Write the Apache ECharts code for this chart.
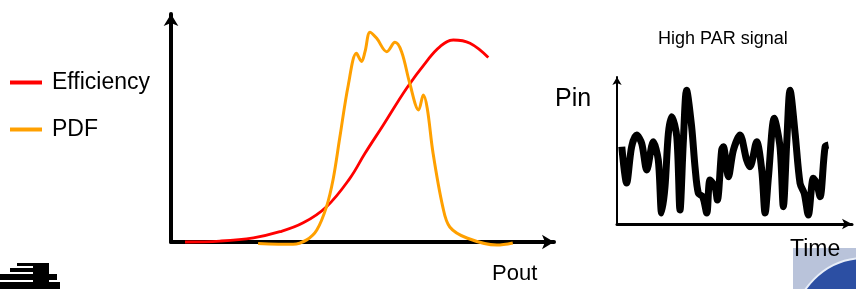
<!DOCTYPE html>
<html>
<head>
<meta charset="utf-8">
<script src="https://cdn.jsdelivr.net/npm/echarts@6/dist/echarts.min.js"></script>
<style>
html, body { margin: 0; padding: 0; background: #fff; }
#main { width: 856px; height: 289px; }
</style>
</head>
<body>
<div id="main"></div>
<script>
// left panel: efficiency and PDF against Pout (arbitrary units, 0-100)
const effPout = [3.6, 12.6, 21.2, 28, 34, 40, 46, 49.9, 54.6, 60.6, 65.7, 69.2, 72.6, 76.9, 81.6];
const effVal  = [0, 0.4, 1.8, 4.4, 8.2, 15.1, 27.2, 37.9, 50, 65.7, 77.1, 83.5, 86.3, 84.9, 78.8];

const pdfPout = [22.4, 31.4, 34.9, 37.5, 40, 41.7, 43.4, 45.6, 47.7, 49, 49.9, 51.2, 52.9, 55.5, 57.6, 59.3, 61.4, 63.7, 64.9, 65.9, 67.4, 69.9, 71.7, 76.1, 83.8, 87.9];
const pdfVal  = [-0.6, -1, 0.9, 5.1, 15.1, 26.8, 44.5, 67.1, 80.6, 77.1, 81.3, 89.6, 87, 81.3, 85.3, 81.3, 67.8, 56.4, 62.8, 57.1, 37.9, 15, 6.4, 1.7, -1.3, -0.4];

// right panel: high PAR input signal over time
const sigTime = [2, 4, 6.1, 8.2, 10.3, 12.4, 15.1, 17.2, 18.6, 20, 21.4, 22.8, 24.9, 26.25, 27.6, 29, 31.1, 32.5, 33.9, 35.7, 37.4, 38.75, 40.8, 41.8, 43.6, 44.3, 46.4, 48.5, 51.25, 54, 55.4, 58.2, 60.3, 61.7, 63.1, 65.5, 67.9, 69.3, 70.7, 72.1, 74.2, 76.25, 78, 79.7, 81.8, 83.2, 84.6, 86.7, 88.1];
const sigPin  = [51.2, 27.2, 51.2, 58.9, 53.4, 35.8, 54.5, 42.4, 7.3, 24.7, 60.1, 71.1, 57.8, 9.3, 53.4, 88.7, 64.4, 37.9, 20.3, 18.1, 7.3, 29.1, 24.7, 15.9, 49, 51.2, 31.3, 49, 58.9, 42.4, 37.9, 54.5, 35.8, 7.3, 31.3, 70, 51.2, 11.5, 53.4, 88.7, 60.1, 27, 20.3, 6, 30.3, 27, 18.1, 51.2, 52.3];

const legendNames = ['Efficiency', 'PDF'];

const zip = (a, b) => a.map((v, i) => [v, b[i]]);
const font = '"Liberation Sans", Arial, sans-serif';

function plainAxis(grid, max, width, arrow) {
  return {
    type: 'value', gridIndex: grid, min: 0, max: max,
    axisLine: { show: true, lineStyle: { color: '#000', width: width }, symbol: ['none', 'arrow'], symbolSize: arrow },
    axisTick: { show: false }, axisLabel: { show: false }, splitLine: { show: false }
  };
}

const chart = echarts.init(document.getElementById('main'));
chart.setOption({
  animation: false,
  backgroundColor: '#fff',
  legend: {
    data: legendNames,
    orient: 'vertical',
    left: 5, top: 66,
    icon: 'rect', itemWidth: 32, itemHeight: 4, itemGap: 24,
    textStyle: { fontFamily: font, fontSize: 23, color: '#000', padding: [3, 0, 0, 5] }
  },
  grid: [
    { left: 171, right: 302, top: 14, bottom: 47 },
    { left: 617, right: 4, top: 77, bottom: 65 }
  ],
  xAxis: [plainAxis(0, 98.5, 4, [11, 12]), plainAxis(1, 97.9, 3, [8, 10])],
  yAxis: [plainAxis(0, 97.4, 4, [11, 12]), plainAxis(1, 97.4, 2, [7, 8])],
  series: [
    {
      name: 'Efficiency', type: 'line', xAxisIndex: 0, yAxisIndex: 0,
      data: zip(effPout, effVal), smooth: 0.4, showSymbol: false, clip: false,
      lineStyle: { color: '#ff0000', width: 2.8 }, itemStyle: { color: '#ff0000' }
    },
    {
      name: 'PDF', type: 'line', xAxisIndex: 0, yAxisIndex: 0,
      data: zip(pdfPout, pdfVal), smooth: 0.35, showSymbol: false, clip: false,
      lineStyle: { color: '#ffa000', width: 3 }, itemStyle: { color: '#ffa000' }
    },
    {
      name: 'Pin', type: 'line', xAxisIndex: 1, yAxisIndex: 1,
      data: zip(sigTime, sigPin), smooth: 0.3, showSymbol: false, clip: false,
      lineStyle: { color: '#000', width: 7 }, itemStyle: { color: '#000' }
    }
  ],
  graphic: [
    // logo bits
    { type: 'rect', shape: { x: 17, y: 263, width: 25, height: 3 }, style: { fill: '#000' } },
    { type: 'rect', shape: { x: 10, y: 268, width: 38, height: 4 }, style: { fill: '#000' } },
    { type: 'rect', shape: { x: 0, y: 274, width: 57, height: 6 }, style: { fill: '#000' } },
    { type: 'rect', shape: { x: 0, y: 282, width: 60, height: 7 }, style: { fill: '#000' } },
    { type: 'rect', shape: { x: 33, y: 263, width: 16, height: 26 }, style: { fill: '#000' } },
    { type: 'rect', shape: { x: 793, y: 248, width: 63, height: 41 }, style: { fill: '#b9c3da' } },
    { type: 'circle', shape: { cx: 865, cy: 330, r: 72 }, style: { fill: '#2c4fa3', stroke: '#e8eef8', lineWidth: 2 } },
    // labels
    { type: 'text', left: 492, top: 263, style: { text: 'Pout', font: '22px ' + font, fill: '#000' } },
    { type: 'text', left: 658, top: 30, style: { text: 'High PAR signal', font: '18px ' + font, fill: '#000' } },
    { type: 'text', left: 555, top: 87, style: { text: 'Pin', font: '25px ' + font, fill: '#000' } },
    { type: 'text', left: 790, top: 238, z: 10, style: { text: 'Time', font: '23px ' + font, fill: '#000' } }
  ]
});
</script>
</body>
</html>
